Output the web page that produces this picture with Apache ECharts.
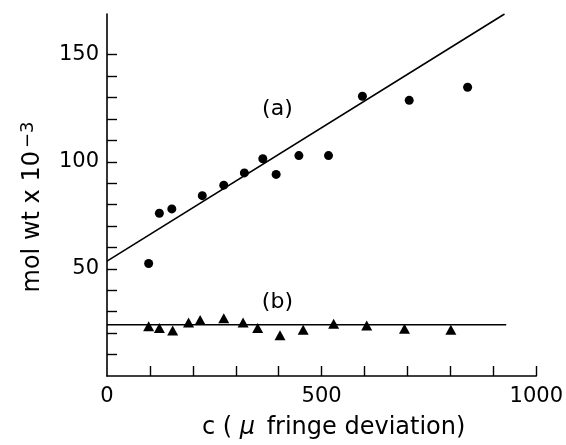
<!DOCTYPE html>
<html>
<head>
<meta charset="utf-8">
<script src="https://cdn.jsdelivr.net/npm/echarts@6/dist/echarts.min.js"></script>
<style>html,body{margin:0;padding:0;background:#fff}#c{width:566px;height:445px}</style>
</head>
<body>
<div id="c"></div>
<script>
// Series (a): circles
const circlesX = [97, 122, 151, 222, 272, 320, 363, 394, 447, 516, 595, 704, 840];
const circlesY = [52.5, 76, 78, 84.2, 89.1, 94.8, 101.4, 94.1, 102.9, 102.9, 130.6, 128.7, 134.8];
// Series (b): triangles
const trianglesX = [97, 122, 153, 190, 217, 272, 317, 351, 403, 457, 528, 605, 693, 801];
const trianglesY = [23.2, 22.4, 21.3, 25, 26.2, 27, 25, 22.4, 19, 21.6, 24.4, 23.6, 22.1, 21.6];
// Fitted lines
const lineAX = [0, 926];
const lineAY = [53.6, 169];
const lineBX = [0, 930];
const lineBY = [23.9, 23.9];
// Ticks and labels
const xTicks = [100, 200, 300, 400, 500, 600, 700, 800, 900, 1000];
const xLabels = [0, 500, 1000];
const yTicks = [10, 20, 30, 40, 50, 60, 70, 80, 90, 100, 110, 120, 130, 140, 150];
const yLabels = [50, 100, 150];
const annotations = [
  { text: '(a)', x: 397, y: 124.5 },
  { text: '(b)', x: 397, y: 34.5 }
];

const zip = (a, b) => a.map((v, i) => [v, b[i]]);
const FONT = 'DejaVu Sans';

const chart = echarts.init(document.getElementById('c'), null, { renderer: 'canvas' });
chart.setOption({
  animation: false,
  backgroundColor: '#fff',
  grid: { left: 107, right: 25, top: 14, bottom: 64.5, containLabel: false },
  xAxis: {
    type: 'value', min: 0, max: 1000, interval: 100,
    axisLine: { show: true, lineStyle: { color: '#000', width: 1.6 } },
    axisTick: { show: true, inside: true, length: 10, customValues: xTicks, lineStyle: { color: '#000', width: 1.4 } },
    axisLabel: { customValues: xLabels, formatter: v => String(v), color: '#000', fontSize: 21, fontFamily: FONT, margin: 10 },
    splitLine: { show: false },
    name: '{n|c ( }{m|μ}{n| fringe deviation)}',
    nameLocation: 'middle', nameGap: 40,
    nameTextStyle: {
      color: '#000', fontSize: 24, fontFamily: FONT, padding: [0, 0, 0, 24],
      rich: {
        n: { fontSize: 24, fontFamily: FONT, color: '#000' },
        m: { fontSize: 24, fontFamily: FONT, fontStyle: 'italic', color: '#000', padding: [0, 4, 0, 0] }
      }
    }
  },
  yAxis: {
    type: 'value', min: 0, max: 169, interval: 10,
    axisLine: { show: true, lineStyle: { color: '#000', width: 1.6 } },
    axisTick: { show: true, inside: true, length: 10, customValues: yTicks, lineStyle: { color: '#000', width: 1.4 } },
    axisLabel: { customValues: yLabels, formatter: v => String(v), color: '#000', fontSize: 21, fontFamily: FONT, margin: 8 },
    splitLine: { show: false },
    name: '{n|mol wt x 10}{s|−3}',
    nameLocation: 'middle', nameGap: 60,
    nameTextStyle: {
      color: '#000', fontSize: 24, fontFamily: FONT, padding: [0, 24, 0, 0],
      rich: {
        n: { fontSize: 24, fontFamily: FONT, color: '#000' },
        s: { fontSize: 18, fontFamily: FONT, color: '#000', verticalAlign: 'top', padding: [0, 0, 10, 3] }
      }
    }
  },
  series: [
    { type: 'line', data: zip(lineAX, lineAY), showSymbol: false, symbol: 'none', lineStyle: { color: '#000', width: 1.6 }, silent: true, z: 1 },
    { type: 'line', data: zip(lineBX, lineBY), showSymbol: false, symbol: 'none', lineStyle: { color: '#000', width: 1.6 }, silent: true, z: 1 },
    { type: 'scatter', data: zip(circlesX, circlesY), symbol: 'circle', symbolSize: 9, itemStyle: { color: '#000', opacity: 1 }, z: 3 },
    { type: 'scatter', data: zip(trianglesX, trianglesY), symbol: 'triangle', symbolSize: [11, 10], itemStyle: { color: '#000', opacity: 1 }, z: 3 },
    {
      type: 'scatter', symbolSize: 1, itemStyle: { opacity: 0 },
      data: annotations.map(a => ({ value: [a.x, a.y], name: a.text })),
      label: { show: true, position: 'inside', formatter: p => p.name, color: '#000', opacity: 1, fontSize: 22, fontFamily: FONT },
      silent: true, z: 4
    }
  ]
});
</script>
</body>
</html>
